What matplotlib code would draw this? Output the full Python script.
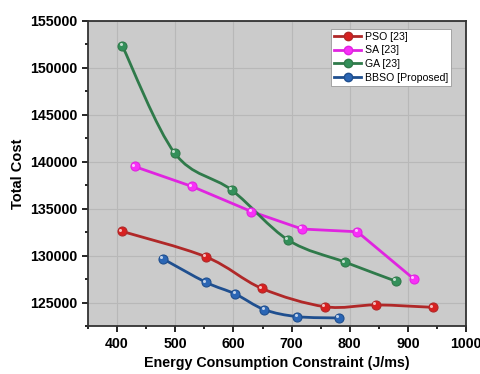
import numpy as np
import matplotlib.pyplot as plt
from matplotlib.path import Path
from matplotlib.patches import PathPatch
from matplotlib.lines import Line2D
from matplotlib.transforms import offset_copy

plt.rcParams['font.family'] = ['Liberation Sans', 'DejaVu Sans']

# data
pso_x = [408, 553, 649, 757, 845, 943]
pso_y = [132600, 129870, 126510, 124570, 124760, 124500]

sa_x = [430, 529, 631, 718, 813, 910]
sa_y = [139500, 137370, 134700, 132840, 132550, 127530]

ga_x = [409, 499, 597, 694, 792, 879]
ga_y = [152340, 140930, 136990, 131670, 129310, 127290]

bbso_x = [479, 553, 603, 653, 710, 781]
bbso_y = [129660, 127160, 125930, 124260, 123510, 123370]

labels = ['PSO [23]', 'SA [23]', 'GA [23]', 'BBSO [Proposed]']
line_colors = ['#b02828', '#e024e0', '#2f7a4a', '#1f4f8f']
face_colors = ['#d82020', '#f830f8', '#33905a', '#2b66b5']


def smooth_path(xs, ys):
    # catmull-rom through the points, drawn as cubic bezier segments
    pts = np.column_stack([xs, ys]).astype(float)
    verts = [pts[0]]
    codes = [Path.MOVETO]
    n = len(pts)
    for i in range(n - 1):
        p0 = pts[i - 1] if i > 0 else pts[i]
        p1, p2 = pts[i], pts[i + 1]
        p3 = pts[i + 2] if i + 2 < n else pts[i + 1]
        c1 = p1 + (p2 - p0) / 6.0
        c2 = p2 - (p3 - p1) / 6.0
        verts += [c1, c2, p2]
        codes += [Path.CURVE4] * 3
    return Path(verts, codes)


fig = plt.figure(figsize=(4.81, 3.74), dpi=100)
ax = fig.add_axes([0.183, 0.128, 0.786, 0.816])
ax.set_facecolor('#cbcbcb')

# little highlight on each ball, nudged up-left
shine = offset_copy(ax.transData, fig=fig, x=-1.2, y=1.2, units='points')

series = [(pso_x, pso_y, True), (sa_x, sa_y, False),
          (ga_x, ga_y, True), (bbso_x, bbso_y, True)]
handles = []
for (xs, ys, smooth), lc, fc, lab in zip(series, line_colors, face_colors, labels):
    if smooth:
        ax.add_patch(PathPatch(smooth_path(xs, ys), facecolor='none',
                               edgecolor=lc, lw=2.0, zorder=3))
    else:
        ax.plot(xs, ys, color=lc, lw=2.0, zorder=3)
    ax.plot(xs, ys, 'o', ms=6.5, mfc=fc, mec=lc, mew=0.8, zorder=4)
    ax.plot(xs, ys, 'o', ms=2.2, mfc='white', mec='none', alpha=0.7,
            zorder=5, transform=shine)
    handles.append(Line2D([], [], color=lc, lw=2.0, marker='o', ms=6,
                          mfc=fc, mec=lc))

ax.set_xlim(350, 1000)
ax.set_ylim(122500, 155000)
ax.set_xticks([400, 500, 600, 700, 800, 900, 1000])
ax.set_xticks(np.arange(350, 1001, 50), minor=True)
ax.set_yticks([125000, 130000, 135000, 140000, 145000, 150000, 155000])
ax.set_yticks(np.arange(122500, 155001, 2500), minor=True)
ax.grid(True, which='major', color='#b8b8b8', lw=0.8)
ax.set_axisbelow(True)

ax.tick_params(which='both', direction='out', top=False, right=False,
               labelsize=10.2, width=1.2)
ax.tick_params(which='major', length=4)
ax.tick_params(which='minor', length=2.5)
for lab in ax.get_xticklabels() + ax.get_yticklabels():
    lab.set_fontweight('bold')
for sp in ax.spines.values():
    sp.set_linewidth(1.3)
    sp.set_color('#333333')

ax.set_xlabel('Energy Consumption Constraint (J/ms)', fontsize=10.3,
              fontweight='bold')
ax.set_ylabel('Total Cost', fontsize=10.5, fontweight='bold')

leg = ax.legend(handles, labels, loc='upper right', fontsize=7.6,
                bbox_to_anchor=(0.96, 0.975), fancybox=False,
                framealpha=1, edgecolor='#999999', handlelength=2.6,
                handletextpad=0.3, borderpad=0.3, labelspacing=0.35,
                borderaxespad=0.0)
leg.get_frame().set_linewidth(0.6)

fig.savefig('out.png', dpi=100)
